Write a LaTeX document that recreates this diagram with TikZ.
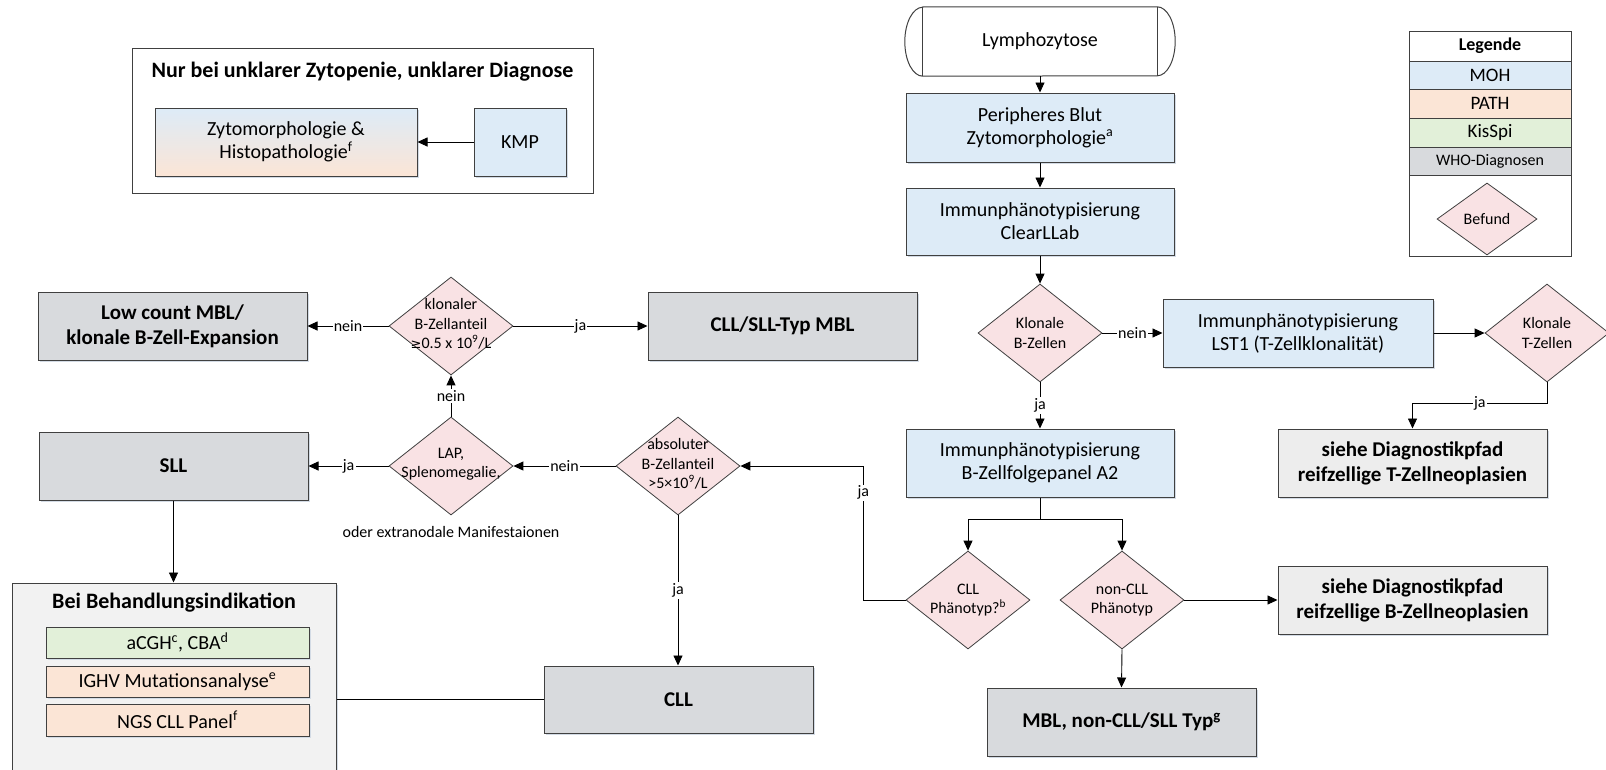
\documentclass[tikz,border=0pt]{standalone}
\usepackage{fontspec}
\setmainfont{Carlito}
\newfontfamily\symfont{DejaVu Sans}
\usetikzlibrary{arrows.meta,shapes.geometric,calc}

\definecolor{mohc}{HTML}{DDEBF7}
\definecolor{pathc}{HTML}{FBE5D6}
\definecolor{kisc}{HTML}{E2F0D9}
\definecolor{whoc}{HTML}{D8DADD}
\definecolor{seec}{HTML}{EDEDED}
\definecolor{beic}{HTML}{F2F2F2}
\definecolor{diac}{HTML}{F9E2E4}
\definecolor{bordc}{HTML}{404040}
\definecolor{shadc}{HTML}{D3DBE5}

\begin{document}
\begin{tikzpicture}[x=1pt,y=-1pt,
  box/.style={rectangle, draw=bordc, line width=1pt, align=center, inner sep=0pt,
    font=\fontsize{20}{23}\selectfont,
    preaction={fill=shadc, transform canvas={shift={(2pt,-2pt)}}}},
  bfont/.style={font=\fontsize{21}{25}\selectfont\bfseries},
  stdbox/.style={box, minimum width=269, minimum height=68},
  dia/.style={diamond, draw=bordc, line width=0.8pt, fill=diac,
    minimum width=124, minimum height=98, inner sep=0pt},
  dtext/.style={font=\fontsize{16}{19.5}\selectfont, align=center, inner sep=0pt},
  legrow/.style={rectangle, draw=bordc, line width=1pt, minimum width=162,
    inner sep=0pt, font=\fontsize{19}{22}\selectfont},
  conn/.style={draw=black, line width=0.9pt},
  arr/.style={conn, -{Triangle[length=10pt,width=9pt]}},
  lbl/.style={fill=white, inner sep=1.2pt, font=\fontsize{16}{18}\selectfont},
]
\clip (0,0) rectangle (1606,769);
\fill[white] (0,0) rectangle (1606,769);

% ---- group: bone marrow work-up ----
\node[rectangle, draw=bordc, line width=1pt, minimum width=461, minimum height=145]
  (topgrp) at (362.5,120.5) {};
\node[font=\fontsize{22}{26}\selectfont\bfseries] (toptitle) at (362.5,72)
  {Nur bei unklarer Zytopenie, unklarer Diagnose};
\node[box, top color=mohc, bottom color=pathc, minimum width=262, minimum height=68]
  (zyto) at (286,142) {Zytomorphologie \&\\Histopathologie\textsuperscript{f}};
\node[box, fill=mohc, minimum width=92, minimum height=68] (kmp) at (520,142) {KMP};
\draw[arr] (kmp.west) -- (zyto.east);

% ---- main column ----
\node[font=\fontsize{20}{23}\selectfont, minimum width=234, minimum height=69, inner sep=0pt]
  (lymph) at (1040,41.5) {Lymphozytose};
\draw[bordc, line width=1pt] (lymph.north west) -- (lymph.north east)
  arc[start angle=90, end angle=-90, x radius=18pt, y radius=34.5pt]
  -- (lymph.south west)
  arc[start angle=270, end angle=90, x radius=18pt, y radius=34.5pt] -- cycle;
\draw[bordc, line width=1pt] (lymph.north west) -- (lymph.south west)
  (lymph.north east) -- (lymph.south east);

\node[stdbox, fill=mohc, minimum width=268, minimum height=69] (perip) at (1040,127.5)
  {Peripheres Blut\\Zytomorphologie\textsuperscript{a}};
\node[stdbox, fill=mohc, minimum width=268, minimum height=67] (clear) at (1040,221.5)
  {Immunphänotypisierung\\ClearLLab};

\node[dia] (kB) at (1040,333) {};
\node[dtext] (kBt) at (1040,333) {Klonale\\B-Zellen};

\node[stdbox, fill=mohc, minimum width=270] (lst1) at (1298,333)
  {Immunphänotypisierung\\LST1 (T-Zellklonalität)};
\node[dia] (kT) at (1547,333) {};
\node[dtext] (kTt) at (1547,333) {Klonale\\T-Zellen};

\node[stdbox, fill=seec, bfont] (sieheT) at (1412.5,463)
  {siehe Diagnostikpfad\\reifzellige T-Zellneoplasien};
\node[stdbox, fill=mohc, minimum width=268] (bfolge) at (1040,463)
  {Immunphänotypisierung\\B-Zellfolgepanel A2};

\node[dia] (cllp) at (968,600) {};
\node[dtext] (cllpt) at (968,600) {CLL\\Phänotyp?\textsuperscript{b}};
\node[dia] (ncllp) at (1122,600) {};
\node[dtext] (ncllpt) at (1122,600) {non-CLL\\Phänotyp};

\node[stdbox, fill=seec, bfont] (sieheB) at (1412.5,600)
  {siehe Diagnostikpfad\\reifzellige B-Zellneoplasien};
\node[stdbox, fill=whoc, bfont] (mbl) at (1121.5,722)
  {MBL, non-CLL/SLL Typ\textsuperscript{g}};

% ---- left branch ----
\node[stdbox, fill=whoc, bfont] (low) at (172.5,326)
  {Low count MBL/\\klonale B-Zell-Expansion};
\node[dia] (klon) at (451,326) {};
\node[dtext] (klont) at (451,324)
  {klonaler\\B-Zellanteil\\{\symfont\fontsize{13}{15}\selectfont ≥}0.5 x 10\textsuperscript{9}/L};
\node[stdbox, fill=whoc, bfont] (mblcll) at (782.5,326) {CLL/SLL-Typ MBL};

\node[stdbox, fill=whoc, bfont] (sll) at (173.5,466) {SLL};
\node[dia] (lap) at (451,466) {};
\node[dtext] (lapt) at (451,464) {LAP,\\Splenomegalie,};
\node[dtext] (lapnote) at (451,532) {oder extranodale Manifestaionen};
\node[dia] (absb) at (678,466) {};
\node[dtext] (absbt) at (678,464)
  {absoluter\\B-Zellanteil\\>5×10\textsuperscript{9}/L};

\node[stdbox, fill=whoc, bfont, minimum height=67] (cll) at (678.5,699.5) {CLL};

\node[box, fill=beic, minimum width=324, minimum height=207] (bei) at (174,686.5) {};
\node[font=\fontsize{22}{26}\selectfont\bfseries] (beit) at (174,603)
  {Bei Behandlungsindikation};
\node[box, fill=kisc, minimum width=263, minimum height=31] (acgh) at (177.5,642.5)
  {aCGH\textsuperscript{c}, CBA\textsuperscript{d}};
\node[box, fill=pathc, minimum width=263, minimum height=31] (ighv) at (177.5,681.5)
  {IGHV Mutationsanalyse\textsuperscript{e}};
\node[box, fill=pathc, minimum width=263, minimum height=32] (ngs) at (177.5,720)
  {NGS CLL Panel\textsuperscript{f}};

% ---- legend ----
\node[legrow, fill=white, minimum height=30, font=\fontsize{18}{21}\selectfont\bfseries]
  (legT) at (1490,46) {Legende};
\node[legrow, fill=mohc, minimum height=28] (legM) at (1490,75) {MOH};
\node[legrow, fill=pathc, minimum height=29] (legP) at (1490,103.5) {PATH};
\node[legrow, fill=kisc, minimum height=29] (legK) at (1490,132.5) {KisSpi};
\node[legrow, fill=whoc, minimum height=28, font=\fontsize{16}{19}\selectfont]
  (legW) at (1490,161) {WHO-Diagnosen};
\node[legrow, fill=white, minimum height=81] (legB) at (1490,215.5) {};
\node[diamond, draw=bordc, line width=0.8pt, fill=diac, minimum width=100,
  minimum height=72, inner sep=0pt, font=\fontsize{16}{19}\selectfont]
  (legD) at (1487,219) {Befund};

% ---- connectors ----
\draw[arr] (lymph.south) -- (perip.north);
\draw[arr] (perip.south) -- (clear.north);
\draw[arr] (clear.south) -- (kB.north);
\draw[arr] (kB.east) -- node[lbl] {nein} (lst1.west);
\draw[arr] (kB.south) -- node[lbl] {ja} (bfolge.north);
\draw[arr] (lst1.east) -- (kT.west);
\draw[arr] (kT.south) |- node[lbl, pos=0.75] {ja} ($(sieheT.north)+(0,-25)$) -- (sieheT.north);

\coordinate (split) at ($(bfolge.south)+(0,22)$);
\draw[conn] (bfolge.south) -- (split);
\draw[arr] (split) -| (cllp.north);
\draw[arr] (split) -| (ncllp.north);
\draw[arr] (ncllp.east) -- (sieheB.west);
\draw[arr] (ncllp.south) -- (mbl.north);

\draw[arr] (cllp.west) -| node[lbl, pos=0.9] {ja} ($(absb.east)+(123,0)$) -- (absb.east);
\draw[arr] (absb.west) -- node[lbl] {nein} (lap.east);
\draw[arr] (absb.south) -- node[lbl] {ja} (absb.south |- cll.north);
\draw[arr] (lap.west) -- node[lbl] {ja} (sll.east);
\draw[arr] (lap.north) -- node[lbl] {nein} (klon.south);
\draw[arr] (klon.west) -- node[lbl] {nein} (low.east);
\draw[arr] (klon.east) -- node[lbl] {ja} (mblcll.west);
\draw[arr] (sll.south) -- (sll.south |- bei.north);
\draw[conn] (cll.west -| bei.east) -- (cll.west);
\end{tikzpicture}
\end{document}
